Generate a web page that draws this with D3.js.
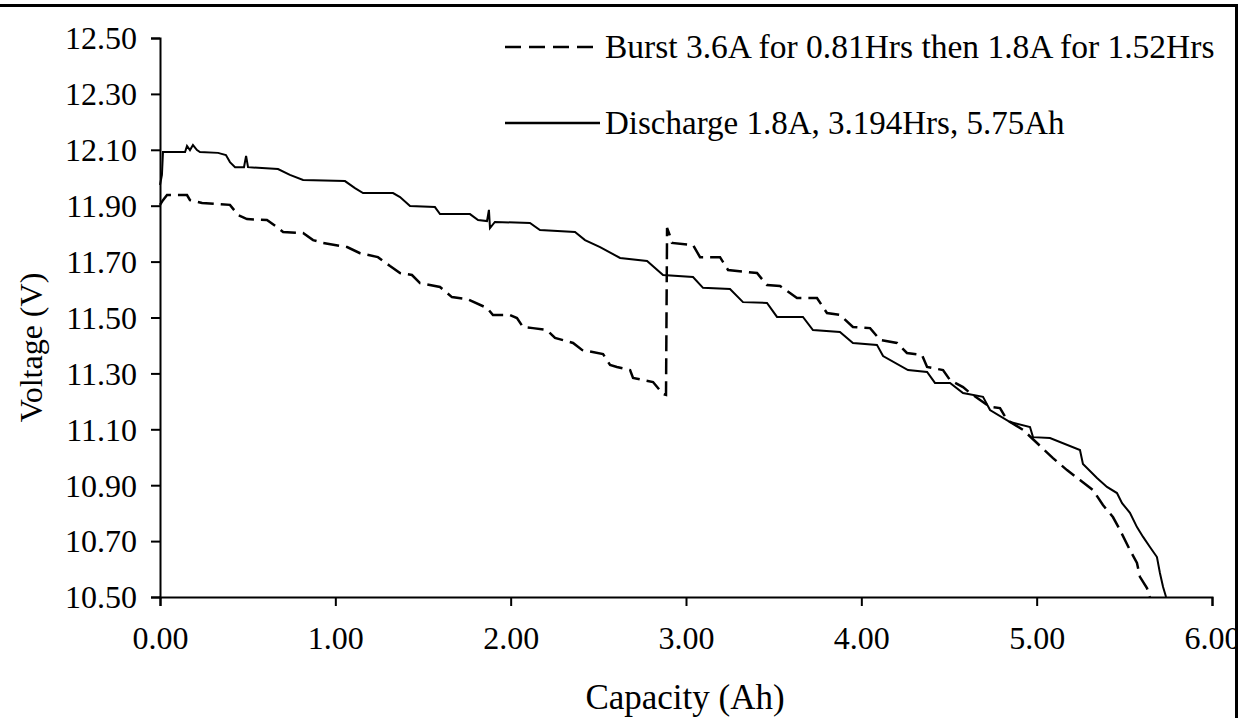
<!DOCTYPE html>
<html>
<head>
<meta charset="utf-8">
<script src="https://d3js.org/d3.v7.min.js"></script>
<style>
  body { margin: 0; background: #fff; }
  text { font-family: "Liberation Serif", "Times New Roman", serif; fill: #000; }
</style>
</head>
<body>
<div id="chart"></div>
<script>

// capacity (Ah) and voltage (V) for the two discharge runs
var burstAh = [0.000, 0.017, 0.040, 0.154, 0.171, 0.240, 0.399, 0.445, 0.496, 0.610, 0.667, 0.702,
  0.816, 0.873, 0.930, 1.067, 1.141, 1.243, 1.312, 1.369, 1.437, 1.483, 1.597, 1.665, 1.751, 1.865,
  1.899, 1.996, 2.036, 2.070, 2.127, 2.207, 2.253, 2.356, 2.407, 2.527, 2.567, 2.606, 2.681, 2.698,
  2.812, 2.869, 2.886, 2.892, 2.909, 2.920, 3.040, 3.080, 3.194, 3.240, 3.405, 3.462, 3.536, 3.633,
  3.747, 3.804, 3.878, 3.952, 4.050, 4.107, 4.203, 4.260, 4.346, 4.375, 4.466, 4.506, 4.580, 4.620,
  4.734, 4.791, 4.831, 4.922, 5.002, 5.093, 5.173, 5.247, 5.321, 5.378, 5.435, 5.475, 5.532, 5.572,
  5.589, 5.629, 5.646];
var burstV = [11.903, 11.920, 11.938, 11.938, 11.920, 11.910, 11.903, 11.867, 11.852, 11.849, 11.824, 11.806,
  11.802, 11.777, 11.767, 11.752, 11.730, 11.716, 11.684, 11.659, 11.652, 11.623, 11.609, 11.573, 11.566, 11.534,
  11.509, 11.509, 11.498, 11.466, 11.462, 11.455, 11.427, 11.409, 11.384, 11.369, 11.330, 11.323, 11.312, 11.284,
  11.269, 11.226, 11.223, 11.820, 11.792, 11.767, 11.759, 11.716, 11.716, 11.670, 11.659, 11.616, 11.613, 11.570,
  11.570, 11.516, 11.509, 11.466, 11.462, 11.420, 11.409, 11.373, 11.366, 11.323, 11.312, 11.276, 11.251, 11.230,
  11.180, 11.176, 11.133, 11.098, 11.051, 10.997, 10.954, 10.919, 10.883, 10.829, 10.786, 10.740, 10.668, 10.622,
  10.572, 10.532, 10.500];

var dischargeAh = [0.000, 0.011, 0.017, 0.143, 0.154, 0.171, 0.188, 0.211, 0.228, 0.331, 0.376, 0.399,
  0.428, 0.479, 0.491, 0.502, 0.673, 0.741, 0.816, 1.055, 1.112, 1.158, 1.329, 1.369, 1.426, 1.568,
  1.597, 1.768, 1.814, 1.865, 1.876, 1.882, 1.910, 2.110, 2.167, 2.367, 2.424, 2.510, 2.624, 2.778,
  2.869, 3.040, 3.097, 3.251, 3.325, 3.462, 3.519, 3.667, 3.724, 3.878, 3.952, 4.089, 4.124, 4.266,
  4.375, 4.420, 4.506, 4.580, 4.694, 4.734, 4.848, 4.962, 4.979, 5.076, 5.247, 5.264, 5.344, 5.401,
  5.458, 5.487, 5.532, 5.572, 5.607, 5.646, 5.686, 5.703, 5.721, 5.738];
var dischargeV = [11.974, 12.010, 12.092, 12.092, 12.114, 12.099, 12.117, 12.099, 12.092, 12.089, 12.081, 12.056,
  12.038, 12.038, 12.078, 12.038, 12.031, 12.010, 11.992, 11.988, 11.963, 11.945, 11.945, 11.931, 11.899, 11.895,
  11.870, 11.870, 11.849, 11.845, 11.885, 11.820, 11.842, 11.838, 11.813, 11.806, 11.777, 11.752, 11.713, 11.702,
  11.652, 11.645, 11.606, 11.602, 11.555, 11.552, 11.502, 11.502, 11.455, 11.448, 11.409, 11.402, 11.362, 11.312,
  11.305, 11.266, 11.266, 11.230, 11.216, 11.169, 11.126, 11.108, 11.072, 11.069, 11.026, 10.976, 10.926, 10.894,
  10.872, 10.836, 10.801, 10.750, 10.715, 10.679, 10.643, 10.586, 10.536, 10.500];

var xTicks = [0, 1, 2, 3, 4, 5, 6];
var yTicks = [10.5, 10.7, 10.9, 11.1, 11.3, 11.5, 11.7, 11.9, 12.1, 12.3, 12.5];

var seriesNames = ["Burst 3.6A for 0.81Hrs then 1.8A for 1.52Hrs", "Discharge 1.8A, 3.194Hrs, 5.75Ah"];

var width = 1238,
    height = 718;
var margin = {top: 38, right: 26, bottom: 121, left: 160};

var svg = d3.select("#chart")
  .append("svg")
  .attr("width", width)
  .attr("height", height);

// outer frame (top and right edge only)
svg.append("line")
  .attr("x1", 0).attr("x2", width)
  .attr("y1", 5.5).attr("y2", 5.5)
  .attr("stroke", "#000").attr("stroke-width", 3);
svg.append("line")
  .attr("x1", 1236.5).attr("x2", 1236.5)
  .attr("y1", 4).attr("y2", height)
  .attr("stroke", "#000").attr("stroke-width", 3);

var xScale = d3.scaleLinear()
  .domain([0, 6])
  .range([margin.left, width - margin.right]);

var yScale = d3.scaleLinear()
  .domain([10.5, 12.5])
  .range([height - margin.bottom, margin.top]);

// x axis
var xAxis = svg.append("g")
  .attr("transform", "translate(0," + yScale(10.5) + ")")
  .call(d3.axisBottom(xScale).tickValues(xTicks).tickSize(9).tickPadding(20).tickFormat(d3.format(".2f")));

// y axis
var yAxis = svg.append("g")
  .attr("transform", "translate(" + xScale(0) + ",0)")
  .call(d3.axisLeft(yScale).tickValues(yTicks).tickSize(9).tickPadding(14).tickFormat(d3.format(".2f")));

[xAxis, yAxis].forEach(function(ax) {
  ax.select(".domain").attr("stroke", "#000").attr("stroke-width", 2);
  ax.selectAll(".tick line").attr("stroke", "#000").attr("stroke-width", 2);
  ax.selectAll(".tick text")
    .attr("fill", "#000")
    .style("font-family", "'Liberation Serif', 'Times New Roman', serif")
    .style("font-size", "32px");
});
yAxis.selectAll(".tick text").attr("dy", "0.34em");

// axis titles
svg.append("text")
  .attr("x", 685)
  .attr("y", 709)
  .style("text-anchor", "middle")
  .style("font-size", "35px")
  .text("Capacity (Ah)");

svg.append("text")
  .attr("transform", "translate(42," + (yScale(11.5) + 30) + ") rotate(-90)")
  .style("text-anchor", "middle")
  .style("font-size", "32px")
  .text("Voltage (V)");

var line = d3.line()
  .x(function(d) { return xScale(d[0]); })
  .y(function(d) { return yScale(d[1]); });

var burst = burstAh.map(function(a, i) { return [a, burstV[i]]; });
var discharge = dischargeAh.map(function(a, i) { return [a, dischargeV[i]]; });

svg.append("path")
  .datum(discharge)
  .attr("fill", "none")
  .attr("stroke", "#000")
  .attr("stroke-width", 2)
  .attr("d", line);

svg.append("path")
  .datum(burst)
  .attr("fill", "none")
  .attr("stroke", "#000")
  .attr("stroke-width", 2.5)
  .attr("stroke-dasharray", "16,7")
  .attr("d", line);

// legend
var legend = svg.append("g");
var legendY = [47, 123];
var legendDash = ["16,8", null];
var legendSize = [33.5, 33];

seriesNames.forEach(function(name, i) {
  legend.append("line")
    .attr("x1", 505).attr("x2", 600)
    .attr("y1", legendY[i]).attr("y2", legendY[i])
    .attr("stroke", "#000")
    .attr("stroke-width", 2.5)
    .attr("stroke-dasharray", legendDash[i]);
  legend.append("text")
    .attr("x", 605)
    .attr("y", legendY[i])
    .attr("dy", "0.34em")
    .style("font-size", legendSize[i] + "px")
    .text(name);
});

</script>
</body>
</html>
